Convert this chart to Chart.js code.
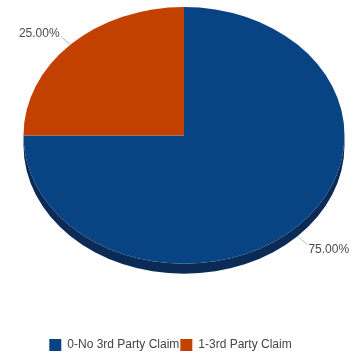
<!DOCTYPE html>
<html>
<head>
<meta charset="utf-8">
<script src="https://cdn.jsdelivr.net/npm/chart.js@4/dist/chart.umd.min.js"></script>
<style>
html, body { margin: 0; padding: 0; background: #fff; }
#contenedor { width: 362px; height: 356px; }
</style>
</head>
<body>
<div id="contenedor"><canvas id="grafica"></canvas></div>
<script>
var categorias = ["0-No 3rd Party Claim", "1-3rd Party Claim"];
var valores = [75, 25];
var colores = ['#084383', '#c24100'];
var coloresLado = ['#0b2a55', '#7a2900'];

// pie inclinado (efecto 3D) + etiquetas con linea guia
var pastel3d = {
    id: 'pastel3d',
    beforeDatasetsDraw: function(chart, args, opts) {
        var meta = chart.getDatasetMeta(0);
        var ctx = chart.ctx;
        var a0 = meta.data[0];
        var cx = a0.x, cy = a0.y, r = a0.outerRadius;
        var tx = cx + opts.shiftX;
        var ty = chart.chartArea.top + opts.topGap + opts.tilt * r;
        chart.$pastel = { tx: tx, ty: ty, r: r };
        ctx.save();
        ctx.translate(tx, ty);
        ctx.scale(1, opts.tilt);
        ctx.translate(-cx, -cy);
        var dd = opts.depth / opts.tilt;
        meta.data.forEach(function(arc, i) {
            var s = Math.max(arc.startAngle, 0);
            var e = Math.min(arc.endAngle, Math.PI);
            if (e > s) {
                ctx.beginPath();
                ctx.arc(cx, cy, r, s, e);
                ctx.arc(cx, cy + dd, r, e, s, true);
                ctx.closePath();
                ctx.fillStyle = coloresLado[i];
                ctx.fill();
            }
        });
    },
    afterDatasetsDraw: function(chart, args, opts) {
        var ctx = chart.ctx;
        ctx.restore();
        var p = chart.$pastel;
        var meta = chart.getDatasetMeta(0);
        var total = valores.reduce(function(a, b) { return a + b; }, 0);
        ctx.save();
        ctx.font = '12px Arial, "Liberation Sans", sans-serif';
        meta.data.forEach(function(arc, i) {
            var mid = (arc.startAngle + arc.endAngle) / 2;
            var c = Math.cos(mid), s = Math.sin(mid);
            var x1 = p.tx + p.r * c;
            var y1 = p.ty + opts.tilt * p.r * s + (s > 0 ? opts.depth : 0);
            var x2 = x1 + c * 14;
            var y2 = y1 + s * 14 * 0.85;
            ctx.beginPath();
            ctx.moveTo(x1, y1);
            ctx.lineTo(x2, y2);
            ctx.strokeStyle = '#a3c9c6';
            ctx.lineWidth = 1;
            ctx.stroke();
            var txt = (valores[i] / total * 100).toFixed(2) + '%';
            ctx.fillStyle = '#4a4a4a';
            ctx.textBaseline = 'middle';
            if (c < 0) {
                ctx.textAlign = 'right';
                ctx.fillText(txt, x2 - 1, y2 - 3);
            } else {
                ctx.textAlign = 'left';
                ctx.fillText(txt, x2 + 1, y2 + 5);
            }
        });
        ctx.restore();
    }
};

var ctx = document.getElementById("grafica").getContext('2d');
var grafica = new Chart(ctx, {
    type: 'pie',
    data: {
        labels: categorias,
        datasets: [{
            data: valores,
            backgroundColor: colores,
            borderWidth: 0,
            radius: 160.5,
            clip: false
        }]
    },
    options: {
        responsive: true,
        maintainAspectRatio: false,
        animation: false,
        events: [],
        layout: { padding: { left: 0, right: 21, top: 0, bottom: -5 } },
        plugins: {
            tooltip: { enabled: false },
            legend: {
                position: 'bottom',
                labels: {
                    boxWidth: 12,
                    boxHeight: 12,
                    padding: 1,
                    color: '#444',
                    font: { size: 12, family: 'Arial, "Liberation Sans", sans-serif' }
                }
            },
            pastel3d: { tilt: 0.80, depth: 10, shiftX: 13.5, topGap: 7 }
        }
    },
    plugins: [pastel3d]
});
</script>
</body>
</html>
